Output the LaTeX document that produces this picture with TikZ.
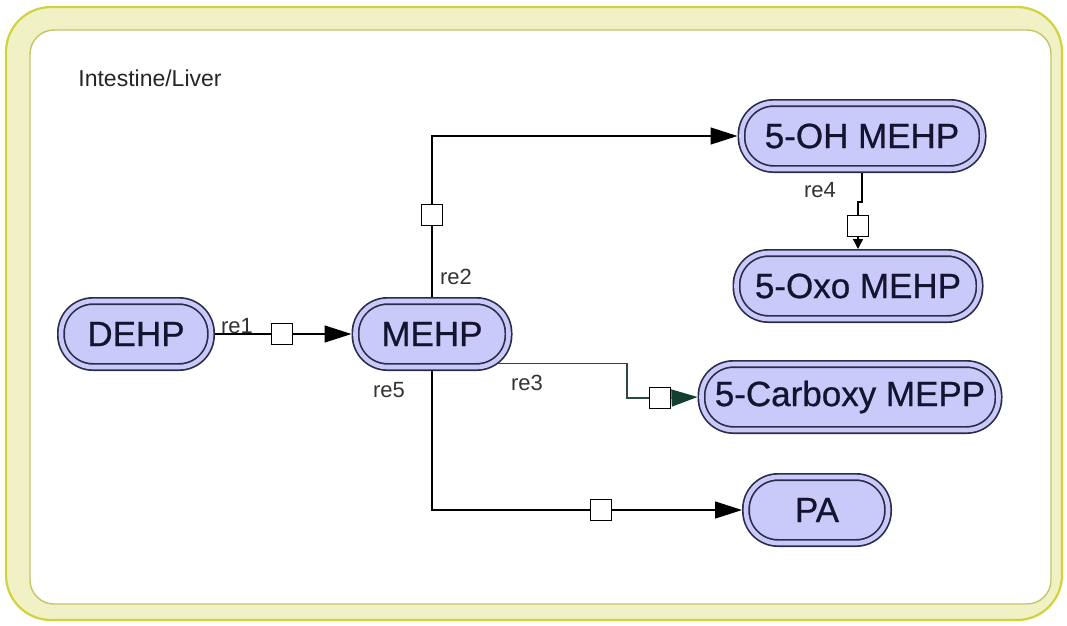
\documentclass[tikz,border=0pt]{standalone}
\usepackage{fontspec}
\setmainfont{Liberation Sans}
\newfontfamily\heavyfont{Liberation Sans}[FakeBold=0.7]
\usetikzlibrary{arrows.meta,backgrounds}
\definecolor{lav}{HTML}{CACAFA}
\definecolor{bord}{HTML}{2B2B4A}
\definecolor{txt}{HTML}{141430}
\definecolor{band}{HTML}{F1F1C6}
\definecolor{bandout}{HTML}{D2D23C}
\definecolor{bandin}{HTML}{C4C46A}
\definecolor{tealline}{HTML}{2A4A42}
\definecolor{tealtip}{HTML}{123F30}
\tikzset{
  species/.style={rectangle, rounded corners=32pt, draw=bord, line width=1.7pt,
    double=lav, double distance=4.6pt, fill=lav, minimum height=66pt,
    inner sep=0pt, outer sep=4pt, text=txt,
    font=\heavyfont\fontsize{35}{40}\selectfont},
  rxn/.style={rectangle, draw=black, line width=1.3pt, fill=white,
    minimum width=21pt, minimum height=21pt, inner sep=0pt},
  conn/.style={draw=black, line width=1.3pt},
  arr/.style={conn, -{Triangle[length=27pt,width=17pt]}},
  relabel/.style={text=black!80, font=\fontsize{22}{24}\selectfont, inner sep=0pt},
}
\begin{document}
\begin{tikzpicture}[x=1pt,y=-1pt]
\useasboundingbox (0,0) rectangle (1067,625);
% compartment
\begin{scope}[on background layer]
\path[fill=band, draw=bandout, line width=2.2pt, rounded corners=45pt] (6,7) rectangle (1062,620);
\path[fill=white, draw=bandin, line width=1.4pt, rounded corners=24pt] (30,30) rectangle (1051,604);
\end{scope}
\node[font=\fontsize{23}{26}\selectfont, text=black!85, inner sep=0pt] (comp) at (150,78) {Intestine/Liver};

% species
\node[species, minimum width=150pt] (DEHP) at (136,334) {DEHP};
\node[species, minimum width=153pt] (MEHP) at (432,334) {MEHP};
\node[species, minimum width=241pt] (OH) at (862,136) {5-OH MEHP};
\node[species, minimum width=243pt] (Oxo) at (858,286) {5-Oxo MEHP};
\node[species, minimum width=297pt] (Carb) at (850,397) {5-Carboxy MEPP};
\node[species, minimum width=142pt] (PA) at (817,510) {PA};

% reaction squares
\node[rxn] (s1) at (282,334) {};
\node[rxn] (s2) at (432,215) {};
\node[rxn] (s3) at (660,398) {};
\node[rxn] (s4) at (858,226) {};
\node[rxn] (s5) at (601,510) {};
\coordinate (k3) at (627,398);
\coordinate (k4) at (862,202);

% labels
\node[relabel] (l1) at (237,326) {re1};
\node[relabel] (l2) at (456,277) {re2};
\node[relabel] (l3) at (527,383) {re3};
\node[relabel] (l4) at (820,190) {re4};
\node[relabel] (l5) at (389,390) {re5};

% connectors
\draw[conn] (DEHP.east) -- (s1.west);
\draw[arr] (s1.east) -- (MEHP.west);

\draw[conn] (MEHP.north) -- (s2.south);
\draw[arr] (s2.north) |- (OH.west);

\begin{scope}[on background layer]
\draw[draw=tealline, line width=1.3pt] ([xshift=-20pt]MEHP.-20) -| (k3) -- (s3.west);
\end{scope}
\draw[draw=tealline, line width=1.3pt, -{Triangle[length=26pt,width=17pt,fill=tealtip]}, tealtip] (s3.east) -- (Carb.west);

\draw[conn] (OH.south) -- (k4) -| (s4.north);
\draw[conn, -{Triangle[length=10pt,width=10pt]}] (s4.south) -- (Oxo.north);

\draw[conn] (MEHP.south) |- (s5.west);
\draw[arr] (s5.east) -- (PA.west);
\end{tikzpicture}
\end{document}
